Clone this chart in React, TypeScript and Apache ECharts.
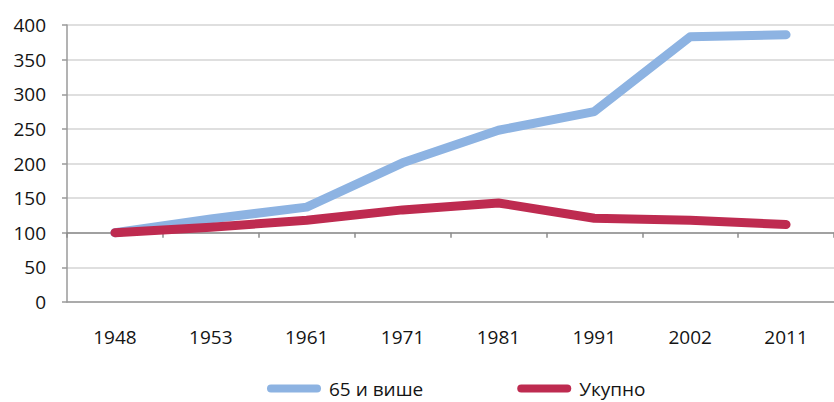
import React, { useEffect, useRef } from "react";
import * as echarts from "echarts";

const years = ["1948", "1953", "1961", "1971", "1981", "1991", "2002", "2011"];
const seniors = [100, 120, 137, 201, 248, 275, 383, 386];
const total = [100, 108, 118, 133, 143, 121, 118, 112];
const seriesNames = ["65 и више", "Укупно"];
const yTicks = { min: 0, max: 400, interval: 50 };

const FONT = "'Open Sans', 'Noto Sans', sans-serif";
const TXT = "#141414";
const FS = 19;

export default function App() {
  const ref = useRef<HTMLDivElement>(null);
  useEffect(() => {
    if (!ref.current) return;
    const chart = echarts.init(ref.current, undefined, { renderer: "svg" });
    const gridTop = 25;
    const gridBottomY = 302;
    const h = gridBottomY - gridTop;
    const offset100 = -(h * 100) / yTicks.max;
    chart.setOption({
      animation: false,
      grid: { left: 67, right: -6, top: gridTop, bottom: 402 - gridBottomY },
      legend: {
        bottom: -1,
        left: 262,
        itemWidth: 54,
        itemHeight: 9,
        itemGap: 94,
        icon: "path://M4,0 H50 A4,4 0 0 1 50,8 H4 A4,4 0 0 1 4,0 Z",
        textStyle: { fontFamily: FONT, fontSize: FS, color: TXT, padding: [0, 0, 0, 3] },
        data: seriesNames,
      },
      xAxis: [
        {
          type: "category",
          data: years,
          boundaryGap: true,
          axisLine: { show: true, lineStyle: { color: "#9a9a9a", width: 1.5 } },
          axisTick: { show: false },
          axisLabel: { fontFamily: FONT, fontSize: FS, color: TXT, margin: 25 },
        },
        {
          type: "category",
          data: years,
          position: "bottom",
          offset: offset100,
          boundaryGap: true,
          axisLine: { show: true, onZero: false, lineStyle: { color: "#8c8c8c", width: 1.5 } },
          axisTick: { show: true, length: 5, lineStyle: { color: "#8c8c8c", width: 1.5 } },
          axisLabel: { show: false },
        },
      ],
      yAxis: {
        type: "value",
        min: yTicks.min,
        max: yTicks.max,
        interval: yTicks.interval,
        axisLine: { show: true, lineStyle: { color: "#9a9a9a", width: 1.5 } },
        axisTick: { show: true, length: 5, lineStyle: { color: "#9a9a9a", width: 1.5 } },
        axisLabel: { fontFamily: FONT, fontSize: FS, color: TXT, margin: 21 },
        splitLine: { show: true, lineStyle: { color: "#d4d4d4", width: 1.5 } },
      },
      series: [
        {
          name: seriesNames[0],
          type: "line",
          data: seniors,
          symbol: "none",
          color: "#8db3e2",
          lineStyle: { color: "#8db3e2", width: 9, cap: "round", join: "round" },
        },
        {
          name: seriesNames[1],
          type: "line",
          data: total,
          symbol: "none",
          color: "#be2b50",
          lineStyle: { color: "#be2b50", width: 9, cap: "round", join: "round" },
        },
      ],
    });
    return () => chart.dispose();
  }, []);
  return <div ref={ref} style={{ width: 834, height: 402, position: "absolute", left: 0, top: 0 }} />;
}
